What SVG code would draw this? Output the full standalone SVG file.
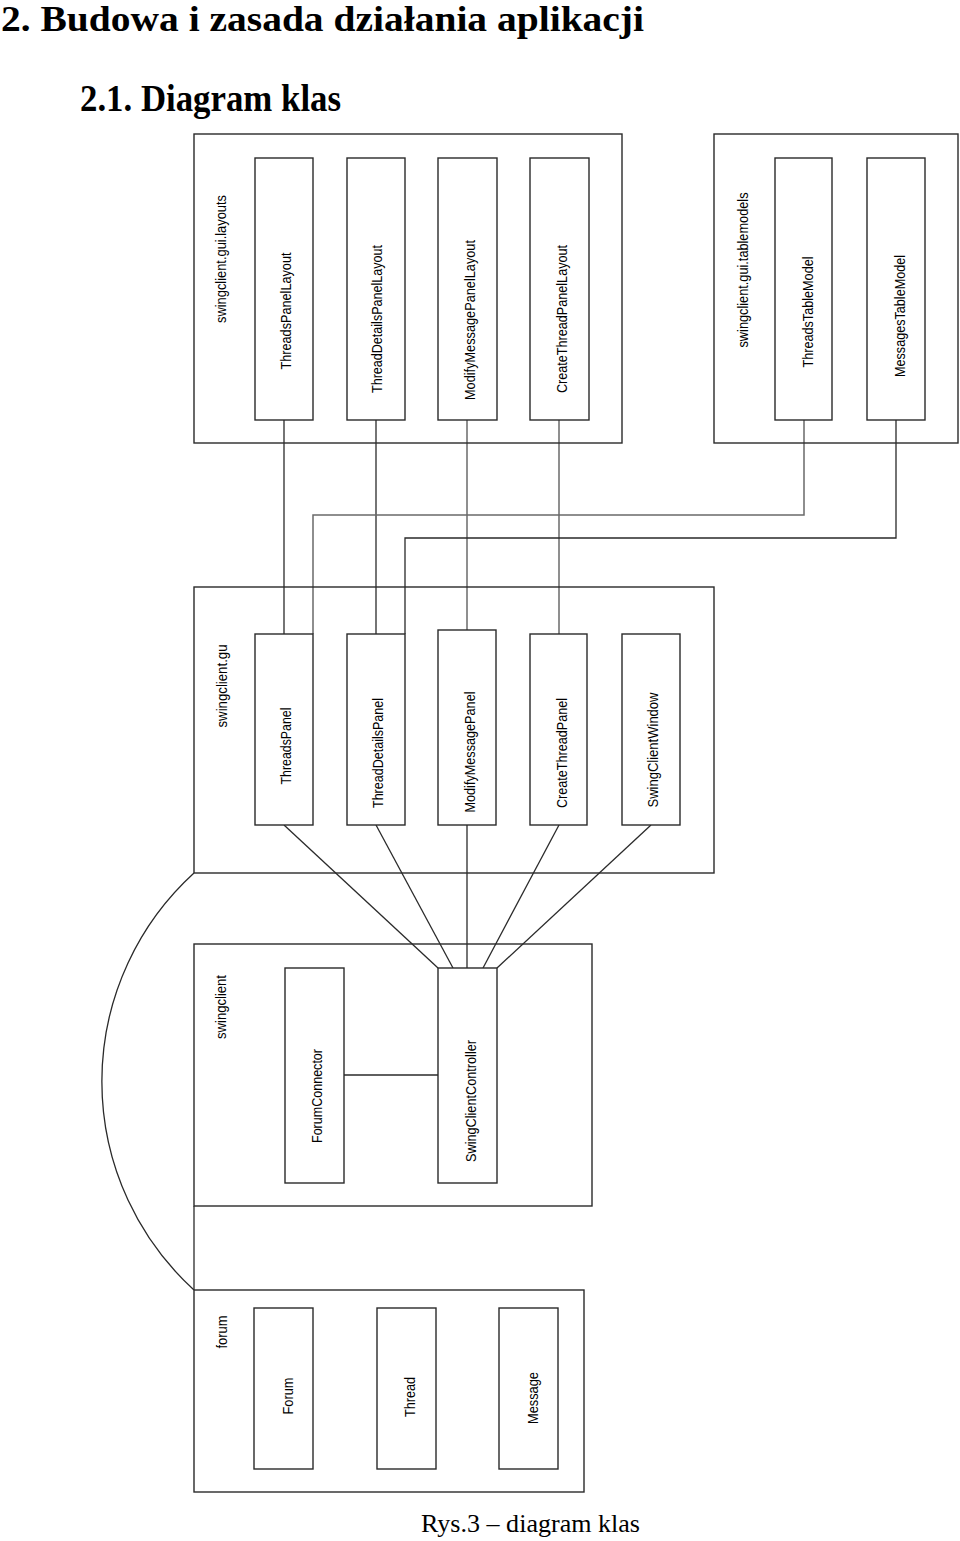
<svg xmlns="http://www.w3.org/2000/svg" width="960" height="1541" viewBox="0 0 960 1541">
<style>
  .pkg { fill: none; stroke: #2a2a2a; stroke-width: 1.4; }
  .cls { fill: #ffffff; stroke: #2a2a2a; stroke-width: 1.4; }
  .lbl { font-family: "Liberation Sans", Arial, sans-serif; font-size: 15px; fill: #000; text-anchor: middle; }
  .ln { fill: none; stroke: #2a2a2a; stroke-width: 1.3; }
  .lg { fill: none; stroke: #6a6a6a; stroke-width: 1.5; }
  .title { font-family: "Liberation Serif", "Times New Roman", serif; font-weight: bold; fill: #000; }
  .cap { font-family: "Liberation Serif", "Times New Roman", serif; font-size: 25px; fill: #000; }
</style>
<rect width="960" height="1541" fill="#ffffff"/>

<text class="title" x="1" y="31" font-size="36" textLength="643" lengthAdjust="spacingAndGlyphs">2. Budowa i zasada działania aplikacji</text>
<text class="title" x="80" y="111" font-size="37" textLength="261" lengthAdjust="spacingAndGlyphs">2.1. Diagram klas</text>

<g id="connectors">
  <line class="ln" x1="284" y1="420" x2="284" y2="634"/>
  <line class="ln" x1="376" y1="420" x2="376" y2="634"/>
  <line class="lg" x1="467" y1="420" x2="467" y2="630"/>
  <line class="lg" x1="559" y1="420" x2="559" y2="634"/>
  <polyline class="lg" points="804,420 804,515 313,515 313,634"/>
  <polyline class="ln" points="896,420 896,538 405,538 405,634"/>
  <line class="ln" x1="284" y1="825" x2="438" y2="968"/>
  <line class="ln" x1="376" y1="825" x2="453" y2="968"/>
  <line class="ln" x1="467" y1="825" x2="467" y2="968"/>
  <line class="ln" x1="559" y1="825" x2="483" y2="968"/>
  <line class="ln" x1="651" y1="825" x2="497" y2="968"/>
  <line class="ln" x1="344" y1="1075" x2="438" y2="1075"/>
  <line class="ln" x1="194" y1="1206" x2="194" y2="1290"/>
  <path class="ln" d="M194,873 A282,282 0 0 0 194,1290"/>
</g>

<g id="pkg-layouts">
  <rect class="pkg" x="194" y="134" width="428" height="309"/>
  <text class="lbl" transform="translate(221,259) rotate(-90)" y="5" textLength="128" lengthAdjust="spacingAndGlyphs">swingclient.gui.layouts</text>
</g>
<g id="ThreadsPanelLayout">
  <rect class="cls" x="255" y="158" width="58" height="262"/>
  <text class="lbl" transform="translate(286,311) rotate(-90)" y="5" textLength="117" lengthAdjust="spacingAndGlyphs">ThreadsPanelLayout</text>
</g>
<g id="ThreadDetailsPanelLayout">
  <rect class="cls" x="347" y="158" width="58" height="262"/>
  <text class="lbl" transform="translate(377,319) rotate(-90)" y="5" textLength="148" lengthAdjust="spacingAndGlyphs">ThreadDetailsPanelLayout</text>
</g>
<g id="ModifyMessagePanelLayout">
  <rect class="cls" x="438" y="158" width="59" height="262"/>
  <text class="lbl" transform="translate(470,320) rotate(-90)" y="5" textLength="160" lengthAdjust="spacingAndGlyphs">ModifyMessagePanelLayout</text>
</g>
<g id="CreateThreadPanelLayout">
  <rect class="cls" x="530" y="158" width="59" height="262"/>
  <text class="lbl" transform="translate(562,319) rotate(-90)" y="5" textLength="148" lengthAdjust="spacingAndGlyphs">CreateThreadPanelLayout</text>
</g>

<g id="pkg-tablemodels">
  <rect class="pkg" x="714" y="134" width="244" height="309"/>
  <text class="lbl" transform="translate(743,270) rotate(-90)" y="5" textLength="155" lengthAdjust="spacingAndGlyphs">swingclient.gui.tablemodels</text>
</g>
<g id="ThreadsTableModel">
  <rect class="cls" x="775" y="158" width="57" height="262"/>
  <text class="lbl" transform="translate(808,312) rotate(-90)" y="5" textLength="111" lengthAdjust="spacingAndGlyphs">ThreadsTableModel</text>
</g>
<g id="MessagesTableModel">
  <rect class="cls" x="867" y="158" width="58" height="262"/>
  <text class="lbl" transform="translate(900,316) rotate(-90)" y="5" textLength="122" lengthAdjust="spacingAndGlyphs">MessagesTableModel</text>
</g>

<g id="pkg-gui">
  <rect class="pkg" x="194" y="587" width="520" height="286"/>
  <text class="lbl" transform="translate(222,686) rotate(-90)" y="5" textLength="83" lengthAdjust="spacingAndGlyphs">swingclient.gu</text>
</g>
<g id="ThreadsPanel">
  <rect class="cls" x="255" y="634" width="58" height="191"/>
  <text class="lbl" transform="translate(286,746) rotate(-90)" y="5" textLength="77" lengthAdjust="spacingAndGlyphs">ThreadsPanel</text>
</g>
<g id="ThreadDetailsPanel">
  <rect class="cls" x="347" y="634" width="58" height="191"/>
  <text class="lbl" transform="translate(378,753) rotate(-90)" y="5" textLength="110" lengthAdjust="spacingAndGlyphs">ThreadDetailsPanel</text>
</g>
<g id="ModifyMessagePanel">
  <rect class="cls" x="438" y="630" width="58" height="195"/>
  <text class="lbl" transform="translate(470,752) rotate(-90)" y="5" textLength="121" lengthAdjust="spacingAndGlyphs">ModifyMessagePanel</text>
</g>
<g id="CreateThreadPanel">
  <rect class="cls" x="530" y="634" width="57" height="191"/>
  <text class="lbl" transform="translate(562,753) rotate(-90)" y="5" textLength="110" lengthAdjust="spacingAndGlyphs">CreateThreadPanel</text>
</g>
<g id="SwingClientWindow">
  <rect class="cls" x="622" y="634" width="58" height="191"/>
  <text class="lbl" transform="translate(653,750) rotate(-90)" y="5" textLength="115" lengthAdjust="spacingAndGlyphs">SwingClientWindow</text>
</g>

<g id="pkg-swingclient">
  <rect class="pkg" x="194" y="944" width="398" height="262"/>
  <text class="lbl" transform="translate(221,1007) rotate(-90)" y="5" textLength="64" lengthAdjust="spacingAndGlyphs">swingclient</text>
</g>
<g id="ForumConnector">
  <rect class="cls" x="285" y="968" width="59" height="215"/>
  <text class="lbl" transform="translate(317,1096) rotate(-90)" y="5" textLength="94" lengthAdjust="spacingAndGlyphs">ForumConnector</text>
</g>
<g id="SwingClientController">
  <rect class="cls" x="438" y="968" width="59" height="215"/>
  <text class="lbl" transform="translate(471,1101) rotate(-90)" y="5" textLength="122" lengthAdjust="spacingAndGlyphs">SwingClientController</text>
</g>

<g id="pkg-forum">
  <rect class="pkg" x="194" y="1290" width="390" height="202"/>
  <text class="lbl" transform="translate(222,1332) rotate(-90)" y="5" textLength="33" lengthAdjust="spacingAndGlyphs">forum</text>
</g>
<g id="Forum">
  <rect class="cls" x="254" y="1308" width="59" height="161"/>
  <text class="lbl" transform="translate(288,1396) rotate(-90)" y="5" textLength="37" lengthAdjust="spacingAndGlyphs">Forum</text>
</g>
<g id="Thread">
  <rect class="cls" x="377" y="1308" width="59" height="161"/>
  <text class="lbl" transform="translate(410,1397) rotate(-90)" y="5" textLength="40" lengthAdjust="spacingAndGlyphs">Thread</text>
</g>
<g id="Message">
  <rect class="cls" x="499" y="1308" width="59" height="161"/>
  <text class="lbl" transform="translate(533,1398) rotate(-90)" y="5" textLength="52" lengthAdjust="spacingAndGlyphs">Message</text>
</g>

<text class="cap" x="421" y="1532" textLength="219" lengthAdjust="spacingAndGlyphs">Rys.3 – diagram klas</text>
</svg>
